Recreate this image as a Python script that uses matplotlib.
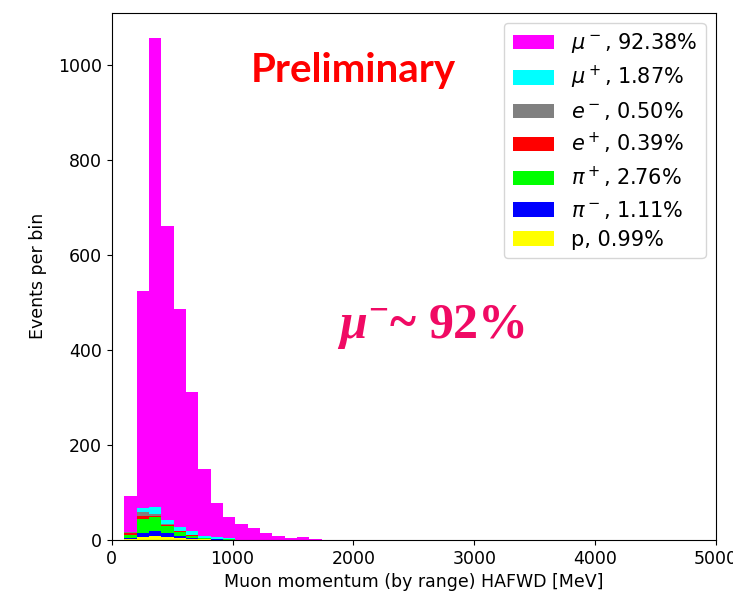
import numpy as np
import matplotlib
matplotlib.use('Agg')
import matplotlib.pyplot as plt

# Bordas dos bins (MeV) e contagens por especie.
bin_edges = [105, 207, 309, 411, 513, 615, 717, 819, 921, 1023,
             1125, 1227, 1329, 1431, 1533, 1635, 1737]

proton = [2, 6, 9, 6, 4, 3, 2, 1, 1, 0, 0, 0, 0, 0, 0, 0]
pi_minus = [3, 9, 10, 8, 5, 2, 1, 1, 0, 0, 0, 0, 0, 0, 0, 0]
pi_plus = [6, 30, 29, 16, 8, 4, 2, 1, 1, 0, 0, 0, 0, 0, 0, 0]
e_plus = [3, 5, 2, 1, 1, 1, 0, 0, 0, 0, 0, 0, 0, 0, 0, 0]
e_minus = [2, 8, 4, 2, 1, 0, 0, 0, 0, 0, 0, 0, 0, 0, 0, 0]
mu_plus = [1, 10, 15, 10, 9, 8, 4, 3, 2, 1, 1, 1, 0, 0, 0, 0]
mu_minus = [75, 457, 989, 619, 458, 294, 141, 71, 44, 32, 24, 14, 8, 5, 7, 3]

# De baixo para cima na pilha
series = [proton, pi_minus, pi_plus, e_plus, e_minus, mu_plus, mu_minus]
labels = ['p, 0.99%', r'$\pi^-$, 1.11%', r'$\pi^+$, 2.76%', r'$e^+$, 0.39%',
          r'$e^-$, 0.50%', r'$\mu^+$, 1.87%', r'$\mu^-$, 92.38%']
colors = ['#FFFF00', '#0000FF', '#00FF00', '#FF0000', '#808080', '#00FFFF', '#FF00FF']

plt.rcParams['mathtext.fontset'] = 'dejavusans'
plt.rcParams['mathtext.it'] = 'Liberation Serif:italic:bold'
plt.rcParams['mathtext.rm'] = 'Liberation Serif:bold'

fig = plt.figure(figsize=(7.33, 6.01), dpi=100)
ax = fig.add_axes([0.1524, 0.1015, 0.8244, 0.8774])

edges = np.array(bin_edges)
centers = (edges[:-1] + edges[1:]) / 2
ax.hist([centers] * len(series), bins=edges, weights=series, stacked=True,
        histtype='stepfilled', color=colors, label=labels, linewidth=0)

ax.set_xlim(0, 5000)
ax.set_xticks([0, 1000, 2000, 3000, 4000, 5000])
ax.set_yticks([0, 200, 400, 600, 800, 1000])
ax.tick_params(axis='both', which='major', labelsize=12.5)
ax.set_xlabel('Muon momentum (by range) HAFWD [MeV]', fontsize=12.5)
ax.set_ylabel('Events per bin', fontsize=12.5, labelpad=8)

# Legenda com mu- no topo, como no original
handles, labs = ax.get_legend_handles_labels()
order = [6, 5, 4, 3, 2, 1, 0]
h_map = dict(zip(labs, handles))
ax.legend([h_map[labels[i]] for i in order], [labels[i] for i in order],
          loc='upper right', fontsize=15, handlelength=2.0, labelspacing=0.42)

ax.text(0.399, 0.89, 'Preliminary', transform=ax.transAxes, color='red',
        fontsize=29, fontweight='bold', family='Lato', ha='center', va='center')
ax.text(0.528, 0.404, r'$\mu^{-}$~ 92%', transform=ax.transAxes, color='#F00A64',
        fontsize=36, fontweight='bold', family='Liberation Serif',
        math_fontfamily='custom', ha='center', va='center')

fig.savefig('out.png', dpi=100)
